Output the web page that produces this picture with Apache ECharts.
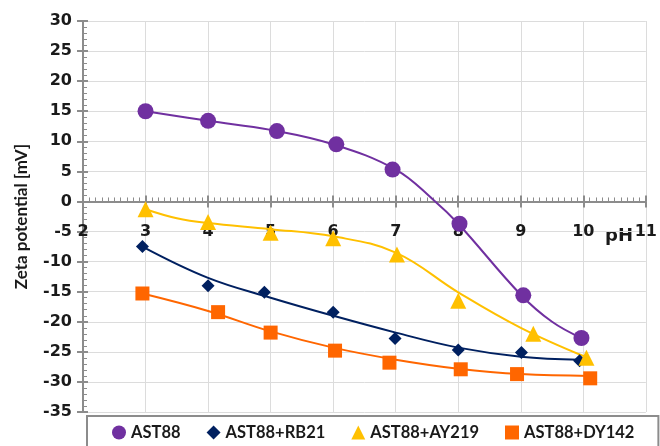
<!DOCTYPE html>
<html><head><meta charset="utf-8">
<script src="https://cdn.jsdelivr.net/npm/echarts@6/dist/echarts.min.js"></script>
<style>html,body{margin:0;padding:0;background:#fff}#c{width:660px;height:446px}</style>
</head><body><div id="c"></div>
<script>
// measured points
const ast88X = [3, 4, 5.1, 6.05, 6.95, 8.02, 9.04, 9.97];
const ast88Y = [15, 13.4, 11.7, 9.5, 5.3, -3.7, -15.6, -22.7];
const rb21X = [2.95, 4, 4.9, 6, 6.99, 8, 9.01, 9.94];
const rb21Y = [-7.5, -14, -15.1, -18.4, -22.8, -24.7, -25.1, -26.5];
const ay219X = [3, 4, 5, 6, 7.02, 8, 9.2, 10.05];
const ay219Y = [-1.3, -3.4, -5.2, -6.1, -8.8, -16.5, -22, -26];
const dy142X = [2.95, 4.16, 5, 6.03, 6.9, 8.04, 8.94, 10.11];
const dy142Y = [-15.3, -18.4, -21.8, -24.8, -26.8, -27.9, -28.7, -29.4];
// trend curves
const ast88FitX = [3, 4, 5, 6, 7, 7.6, 8, 9, 9.5, 9.97];
const ast88FitY = [15, 13.4, 11.9, 9.5, 5.3, 0.3, -3.7, -15.5, -20, -22.7];
const rb21FitX = [2.95, 4, 5, 6, 7, 8, 9, 9.94];
const rb21FitY = [-7.5, -12.7, -16, -19, -21.8, -24.3, -25.8, -26.3];
const ay219FitX = [3, 3.5, 4, 5, 6, 7, 8, 9, 10.05];
const ay219FitY = [-1.3, -2.8, -3.6, -4.6, -5.8, -8.5, -15.1, -21, -25.9];
const dy142FitX = [2.95, 4, 5, 6, 7, 8, 9, 10.11];
const dy142FitY = [-15.3, -18.2, -21.6, -24.3, -26.3, -27.8, -28.7, -29];
const names = ['AST88', 'AST88+RB21', 'AST88+AY219', 'AST88+DY142'];
const colors = ['#7030A0', '#002060', '#FFC000', '#FF6600'];
const symbols = ['circle', 'diamond', 'triangle', 'rect'];
const sizes = [16, 13, 16, 14];
const xLabels = ['2','3','4','5','6','7','8','9','10','11'];

const zip = (a, b) => a.map((v, i) => [v, b[i]]);
const pts = [zip(ast88X, ast88Y), zip(rb21X, rb21Y), zip(ay219X, ay219Y), zip(dy142X, dy142Y)];
const fits = [zip(ast88FitX, ast88FitY), zip(rb21FitX, rb21FitY), zip(ay219FitX, ay219FitY), zip(dy142FitX, dy142FitY)];

const font = 'Lato, "Open Sans", sans-serif';
const tickFont = '"DejaVu Sans", sans-serif';
const axisGrey = '#8c8c8c';
const series = [];
for (let i = 0; i < 4; i++) {
  series.push({ name: names[i] + ' fit', type: 'line', data: fits[i], smooth: 0.4, showSymbol: false,
    lineStyle: { color: colors[i], width: 2 }, z: 2, silent: true });
}
for (let i = 0; i < 4; i++) {
  series.push({ name: names[i], type: 'scatter', data: pts[i], symbol: symbols[i], symbolSize: sizes[i],
    itemStyle: { color: colors[i], opacity: 1 }, z: 3 });
}
const gridTop = 21, gridBottom = 34, gridH = 446 - gridTop - gridBottom;
const zeroOffset = -(gridH * 35 / 65);
const chart = echarts.init(document.getElementById('c'));
chart.setOption({
  animation: false,
  grid: { left: 83, right: 11, top: gridTop, bottom: gridBottom },
  xAxis: [{
    type: 'value', min: 2, max: 11, interval: 1, position: 'bottom', offset: zeroOffset,
    axisLine: { onZero: false, lineStyle: { color: axisGrey, width: 2 } },
    axisTick: { show: true, length: 6, inside: true, lineStyle: { color: axisGrey, width: 2 } },
    minorTick: { show: true, splitNumber: 10, length: 4, lineStyle: { color: axisGrey, width: 1 } },
    splitLine: { show: true, lineStyle: { color: '#dcdcdc', width: 1 } },
    axisLabel: { margin: 22, fontFamily: tickFont, fontWeight: 'bold', fontSize: 16, color: '#1a1a1a',
      formatter: v => xLabels[Math.round(v) - 2] },
  }, {
    type: 'value', min: 2, max: 11, interval: 1, position: 'bottom', offset: zeroOffset,
    axisLine: { show: false, onZero: false },
    axisTick: { show: true, length: 6, inside: false, lineStyle: { color: axisGrey, width: 2 } },
    splitLine: { show: false }, axisLabel: { show: false },
  }],
  yAxis: [{
    type: 'value', min: -35, max: 30, interval: 5,
    name: 'Zeta potential [mV]', nameLocation: 'middle', nameGap: 53,
    nameTextStyle: { fontFamily: font, fontWeight: 'bold', fontSize: 17, color: '#1a1a1a' },
    axisLine: { show: true, onZero: false, lineStyle: { color: axisGrey, width: 2 } },
    axisTick: { show: true, length: 5, inside: true, lineStyle: { color: axisGrey, width: 2 } },
    minorTick: { show: true, splitNumber: 5, length: 4, lineStyle: { color: axisGrey, width: 1 } },
    splitLine: { show: true, lineStyle: { color: '#dcdcdc', width: 1 } },
    axisLabel: { margin: 11, fontFamily: tickFont, fontWeight: 'bold', fontSize: 16, color: '#1a1a1a' },
  }, {
    type: 'value', min: -35, max: 30, interval: 5, position: 'left',
    axisLine: { show: false, onZero: false },
    axisTick: { show: true, length: 6, inside: false, lineStyle: { color: axisGrey, width: 2 } },
    splitLine: { show: false }, axisLabel: { show: false },
  }],
  legend: {
    data: names.map((n, i) => ({ name: n, icon: symbols[i] })),
    left: 87, top: 416, width: 565, itemGap: 26, itemWidth: 14, itemHeight: 14,
    padding: [8, 24, 20, 25], borderColor: axisGrey, borderWidth: 2,
    textStyle: { fontFamily: font, fontWeight: 'bold', fontSize: 16.5, color: '#1a1a1a' },
  },
  graphic: [{ type: 'text', left: 605, top: 227,
    style: { text: 'pH', font: 'bold 18px ' + tickFont, fill: '#1a1a1a' } }],
  series: series,
});
</script></body></html>
